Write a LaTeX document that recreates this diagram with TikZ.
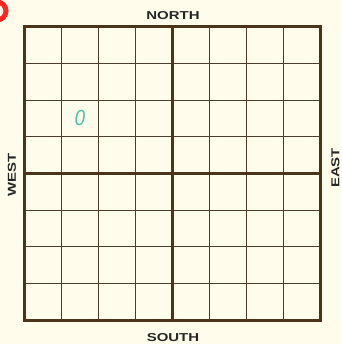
\documentclass[tikz,border=0pt]{standalone}
\usepackage{fontspec}
\setmainfont{Liberation Sans}
\newcommand{\widetext}[1]{\scalebox{1.3}[1]{#1}}
\begin{document}
\begin{tikzpicture}[x=1pt,y=-1pt,
  lbl/.style={font=\bfseries\fontsize{11.5}{11.5}\selectfont, text=black!85, inner sep=0pt},
  thin grid/.style={draw=brown!30!black!90, line width=0.9pt},
  thick grid/.style={draw=brown!40!black, line width=3pt}]
\definecolor{paper}{HTML}{FFFCEC}
\definecolor{mark}{HTML}{4CC4A4}
\fill[paper] (0,0) rectangle (341,344);
\useasboundingbox (0,0) rectangle (341,344);
% thin grid
\foreach \i in {1,2,3,5,6,7} {
  \draw[thin grid] ({24+\i*37},27) -- ({24+\i*37},320);
  \draw[thin grid] (24,{27+\i*36.625}) -- (320,{27+\i*36.625});
}
% thick lines
\draw[thick grid] (172,27) -- (172,320);
\draw[thick grid] (24,173.5) -- (320,173.5);
\draw[thick grid, line join=miter] (24,27) rectangle (320,320);
% red circle corner
\draw[red!85!white, line width=5pt] (-3,11) circle (9);
% labels
\node[lbl] (n) at (173,16) {\widetext{NORTH}};
\node[lbl] (s) at (173,337.5) {\widetext{SOUTH}};
\node[lbl, rotate=90] (w) at (12,175) {\widetext{WEST}};
\node[lbl, rotate=90] (e) at (335.5,168) {\widetext{EAST}};
% green mark
\node[text=mark, font=\itshape\fontsize{19}{19}\selectfont, inner sep=0pt, yscale=1.15] (z) at (80,118) {0};
\end{tikzpicture}
\end{document}
